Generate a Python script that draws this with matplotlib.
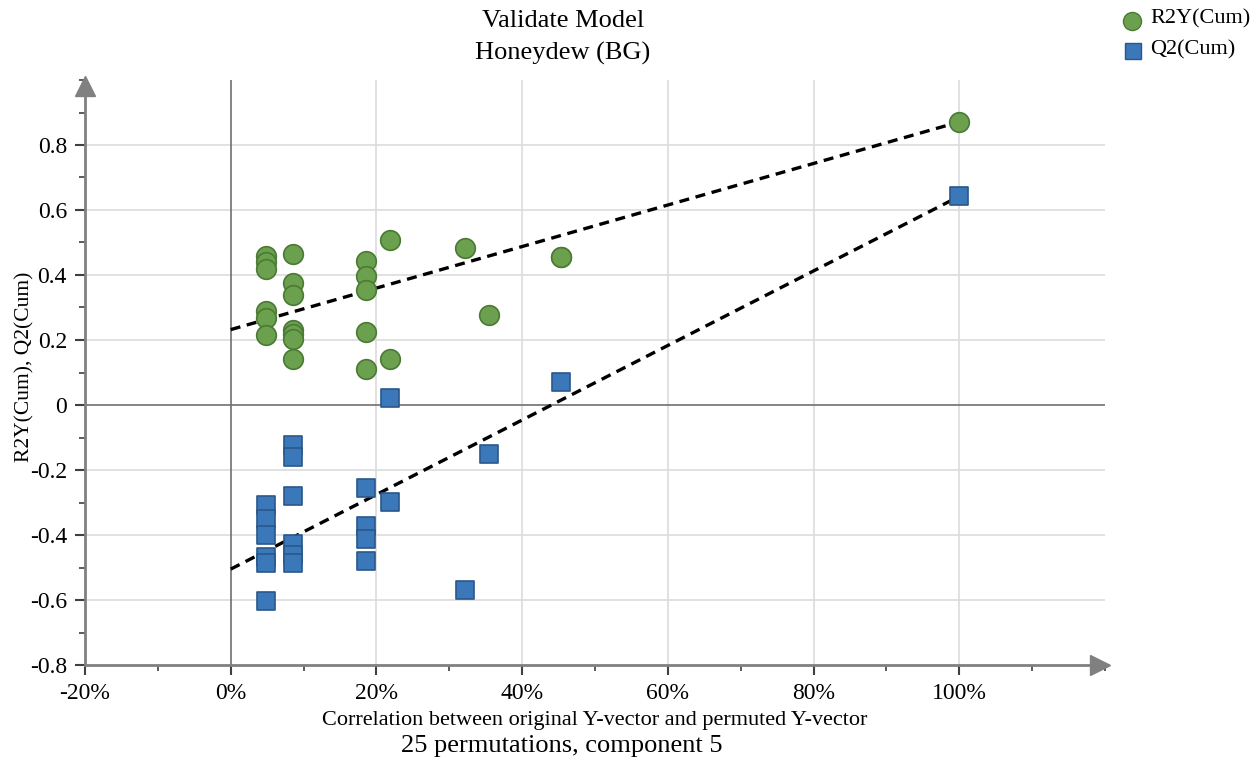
import matplotlib
matplotlib.use("Agg")
import matplotlib.pyplot as plt
from matplotlib.ticker import MultipleLocator, FuncFormatter

# permutation correlation (x) vs R2Y / Q2 (y); last point = original model
r2_x = [0.048, 0.048, 0.048, 0.048, 0.048, 0.048,
        0.085, 0.085, 0.085, 0.085, 0.085, 0.085, 0.085,
        0.185, 0.185, 0.185, 0.185, 0.185,
        0.219, 0.219, 0.321, 0.355, 0.454, 0.454, 1.0]
r2_y = [0.460, 0.440, 0.419, 0.288, 0.267, 0.214,
        0.464, 0.374, 0.340, 0.232, 0.218, 0.204, 0.142,
        0.443, 0.396, 0.355, 0.225, 0.110,
        0.507, 0.141, 0.484, 0.276, 0.455, 0.455, 0.871]
q2_x = [0.048, 0.048, 0.048, 0.048, 0.048, 0.048,
        0.085, 0.085, 0.085, 0.085, 0.085, 0.085,
        0.185, 0.185, 0.185, 0.185,
        0.219, 0.219, 0.321, 0.355, 0.454, 1.0]
q2_y = [-0.309, -0.350, -0.400, -0.468, -0.485, -0.602,
        -0.124, -0.160, -0.280, -0.428, -0.460, -0.485,
        -0.254, -0.371, -0.412, -0.479,
        0.021, -0.297, -0.568, -0.151, 0.072, 0.642]
# regression intercepts at x = 0
r2_icpt = 0.232
q2_icpt = -0.505

plt.rcParams["font.family"] = ["Liberation Serif", "DejaVu Serif"]
plt.rcParams["axes.unicode_minus"] = False

W, H = 1254, 763
fig = plt.figure(figsize=(W / 100, H / 100), dpi=100)
ax = fig.add_axes([85 / W, 1 - 665 / H, (1105 - 85) / W, (665 - 80) / H])
ax.set_xlim(-0.2, 1.2)
ax.set_ylim(-0.8, 1.0)

GREEN, GREEN_E = "#6aa04e", "#4b7a34"
BLUE, BLUE_E = "#3b78b9", "#2a578a"
AXC = "#808080"

# grid and zero lines
for v in [0.2, 0.4, 0.6, 0.8, 1.0]:
    ax.axvline(v, color="#dcdcdc", lw=1.2, zorder=0)
for v in [-0.6, -0.4, -0.2, 0.2, 0.4, 0.6, 0.8]:
    ax.axhline(v, color="#dcdcdc", lw=1.2, zorder=0)
ax.axvline(0, color="#707070", lw=1.2, zorder=1)
ax.axhline(0, color="#707070", lw=1.2, zorder=1)

# regression lines
ax.plot([0, r2_x[-1]], [r2_icpt, r2_y[-1]], color="black", lw=2.4,
        ls=(0, (3, 2)), zorder=2)
ax.plot([0, q2_x[-1]], [q2_icpt, q2_y[-1]], color="black", lw=2.4,
        ls=(0, (3, 2)), zorder=2)

ax.scatter(r2_x, r2_y, s=200, marker="o", color=GREEN, edgecolor=GREEN_E,
           linewidth=1.2, zorder=3)
ax.scatter(q2_x, q2_y, s=170, marker="s", color=BLUE, edgecolor=BLUE_E,
           linewidth=1.2, zorder=3)

# axes styling
for s in ["top", "right"]:
    ax.spines[s].set_visible(False)
for s in ["left", "bottom"]:
    ax.spines[s].set_color(AXC)
    ax.spines[s].set_linewidth(2)
ax.plot(0.995, -0.8, ">", color=AXC, ms=14, clip_on=False,
        transform=ax.get_yaxis_transform(), zorder=5)
ax.plot(-0.2, 0.99, "^", color=AXC, ms=14, clip_on=False,
        transform=ax.get_xaxis_transform(), zorder=5)

ax.set_xticks([-0.2, 0, 0.2, 0.4, 0.6, 0.8, 1.0])
ax.xaxis.set_minor_locator(MultipleLocator(0.1))
ax.set_yticks([-0.8, -0.6, -0.4, -0.2, 0, 0.2, 0.4, 0.6, 0.8])
ax.yaxis.set_minor_locator(MultipleLocator(0.1))
ax.xaxis.set_major_formatter(FuncFormatter(lambda v, p: f"{v * 100:.0f}%"))
ax.yaxis.set_major_formatter(FuncFormatter(
    lambda v, p: "0" if abs(v) < 1e-9 else f"{v:.1f}"))
ax.tick_params(which="major", length=7, width=1.5, color="#404040",
               labelsize=17, pad=6)
ax.tick_params(which="minor", length=4, width=1.2, color="#404040")

ax.set_xlabel("Correlation between original Y-vector and permuted Y-vector",
              fontsize=16, labelpad=5)
fig.text(25 / W, 1 - 367 / H, "R2Y(Cum), Q2(Cum)", rotation=90,
         ha="center", va="center", fontsize=15.5)

fig.text(563 / W, 1 - 21 / H, "Validate Model", ha="center", va="center",
         fontsize=19)
fig.text(563 / W, 1 - 53 / H, "Honeydew (BG)", ha="center", va="center",
         fontsize=19)
fig.text(562 / W, 1 - 746 / H, "25 permutations, component 5", ha="center",
         va="center", fontsize=19)

# legend
fig.lines.append(plt.Line2D([1132 / W], [1 - 21 / H], marker="o", ms=13,
                            color=GREEN, mec=GREEN_E, transform=fig.transFigure))
fig.lines.append(plt.Line2D([1133 / W], [1 - 51 / H], marker="s", ms=12,
                            color=BLUE, mec=BLUE_E, transform=fig.transFigure))
fig.text(1150 / W, 1 - 19 / H, "R2Y(Cum)", va="center", fontsize=16)
fig.text(1150 / W, 1 - 50 / H, "Q2(Cum)", va="center", fontsize=16)

fig.savefig("out.png", dpi=100)
